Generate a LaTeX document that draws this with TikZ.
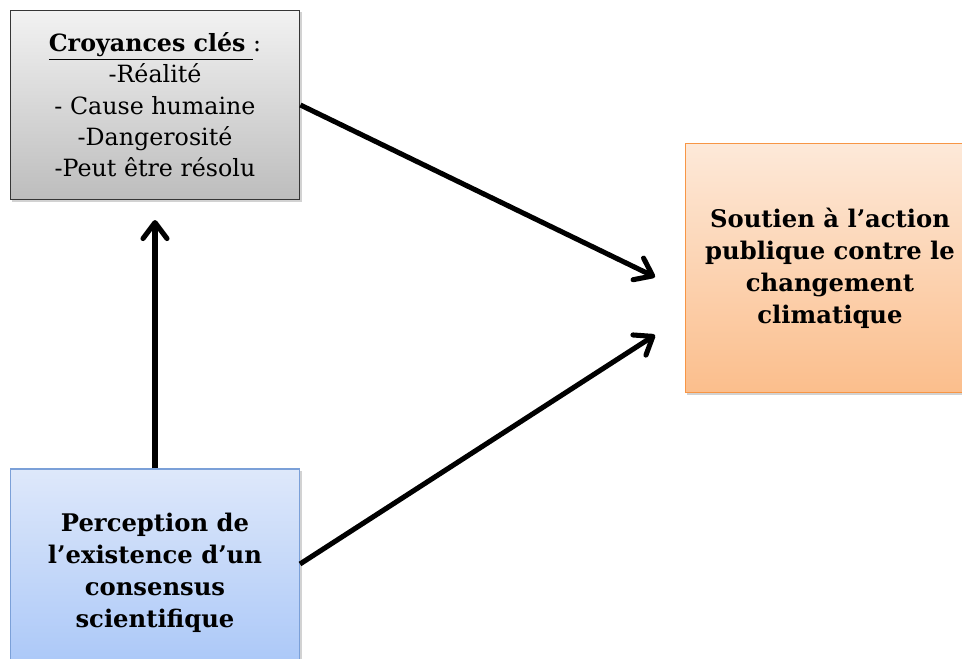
\documentclass[tikz,border=0pt]{standalone}
\usepackage{fontspec}
\setmainfont{DejaVu Serif}
\usetikzlibrary{shadows}
\usetikzlibrary{positioning}
\usetikzlibrary{arrows.meta}

\definecolor{grayedge}{HTML}{363636}
\definecolor{graytop}{HTML}{F2F2F2}
\definecolor{graybot}{HTML}{BDBDBD}
\definecolor{orangeedge}{HTML}{F79646}
\definecolor{orangetop}{HTML}{FDE9D9}
\definecolor{orangebot}{HTML}{FBBE8C}
\definecolor{blueedge}{HTML}{7BA0D8}
\definecolor{bluetop}{HTML}{DEE8FA}
\definecolor{bluebot}{HTML}{A8C6F8}

\begin{document}
\begin{tikzpicture}
  [x=0.75pt,y=-0.75pt,
  box/.style={rectangle,thick,inner sep=0pt,align=center,font=\fontsize{17.8}{23.5}\selectfont,
    drop shadow={opacity=0.35,shadow xshift=1.5pt,shadow yshift=-1.5pt}},
  graybox/.style={box,draw=grayedge,line width=1.1pt,top color=graytop,bottom color=graybot},
  orangebox/.style={box,draw=orangeedge,top color=orangetop,bottom color=orangebot,font=\fontsize{18.2}{24}\selectfont\bfseries},
  bluebox/.style={box,draw=blueedge,top color=bluetop,bottom color=bluebot,font=\fontsize{18.2}{24}\selectfont\bfseries},
  link/.style={-{Straight Barb[length=12pt,width=18pt,round]},line width=3.8pt,black}]
  \clip (0,0) rectangle (962,658);
  \fill[white] (0,0) rectangle (962,658);

  \node[graybox,minimum width=217pt,minimum height=142pt] (beliefs) at (155,105)
    {\underline{\textbf{Croyances clés}\ }:\\-Réalité\\- Cause humaine\\-Dangerosité\\-Peut être résolu};
  \node[orangebox,minimum width=217pt,minimum height=187pt] (support) at (830,268)
    {Soutien à l’action\\publique contre le\\changement\\climatique};
  \node[bluebox,minimum width=217pt,minimum height=156pt] (perception) at (155,573)
    {Perception de\\l’existence d’un\\consensus\\scientifique};

  \coordinate (tip1) at (655,277);
  \coordinate (tip2) at (655,335);
  \coordinate (tip3) at (155,220);
  \coordinate (start2) at (300,564);

  \draw [link] (beliefs.east) -- (tip1);
  \draw [link] (start2) -- (tip2);
  \draw [link] (perception.north) -- (tip3);
\end{tikzpicture}
\end{document}
